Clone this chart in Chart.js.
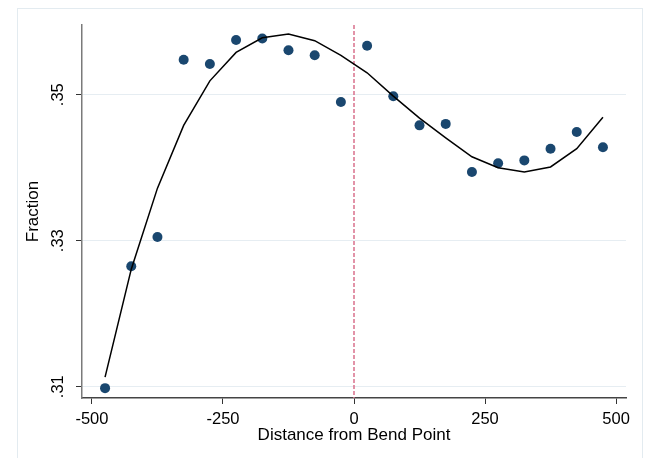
<!DOCTYPE html>
<html>
<head>
<meta charset="utf-8">
<script src="https://cdn.jsdelivr.net/npm/chart.js@4/dist/chart.umd.min.js"></script>
<style>
  html, body { margin: 0; padding: 0; background: #fff; }
  #wrap { position: relative; width: 646px; height: 458px; overflow: hidden; }
  #frame { position: absolute; left: 17px; top: 8px; width: 624px; height: 480px; border: 1px solid #e3ebf0; }
  #chart { position: absolute; left: 0; top: 0; }
</style>
</head>
<body>
<div id="wrap">
  <div id="frame"></div>
  <canvas id="chart" width="646" height="458"></canvas>
</div>
<script>
// bins of 50 around the bend point
const binCenters = [-475, -425, -375, -325, -275, -225, -175, -125, -75, -25,
                    25, 75, 125, 175, 225, 275, 325, 375, 425, 475];
const binFraction = [0.3098, 0.3265, 0.3305, 0.3548, 0.3542, 0.3575, 0.3577, 0.3561, 0.3554, 0.3490,
                     0.3567, 0.3498, 0.3458, 0.3460, 0.3394, 0.3406, 0.3410, 0.3426, 0.3449, 0.3428];
const fittedFraction = [0.3113, 0.3261, 0.3372, 0.3458, 0.3519, 0.3558, 0.3578, 0.3583, 0.3574, 0.3554,
                        0.3530, 0.3498, 0.3468, 0.3441, 0.3415, 0.3400, 0.3394, 0.3401, 0.3426, 0.3469];
const bendPoint = 0;

const xTickValues = [-500, -250, 0, 250, 500];
const yTickValues = [0.31, 0.33, 0.35];
const yTickLabels = ['.31', '.33', '.35'];

const FONT = "'Liberation Sans', Arial, sans-serif";

const toPoints = (ys) => binCenters.map((x, i) => ({ x: x, y: ys[i] }));

// dashed vertical marker at the bend point
const bendLine = {
  id: 'bendLine',
  beforeDatasetsDraw(chart) {
    const { ctx, chartArea, scales } = chart;
    const x = scales.x.getPixelForValue(bendPoint);
    ctx.save();
    ctx.strokeStyle = '#d9708c';
    ctx.lineWidth = 1.5;
    ctx.setLineDash([4, 2]);
    ctx.beginPath();
    ctx.moveTo(x, chartArea.top);
    ctx.lineTo(x, chartArea.bottom);
    ctx.stroke();
    ctx.restore();
  }
};

new Chart(document.getElementById('chart'), {
  type: 'scatter',
  data: {
    datasets: [
      {
        data: toPoints(fittedFraction),
        showLine: true,
        borderColor: '#000',
        borderWidth: 1.5,
        pointRadius: 0,
        tension: 0,
        order: 0
      },
      {
        data: toPoints(binFraction),
        backgroundColor: '#1a476f',
        borderColor: '#1a476f',
        borderWidth: 0,
        pointRadius: 5,
        order: 1
      }
    ]
  },
  plugins: [bendLine],
  options: {
    responsive: false,
    animation: false,
    layout: { padding: { left: 0, top: 25, right: 20, bottom: 0 } },
    plugins: {
      legend: { display: false },
      tooltip: { enabled: false }
    },
    scales: {
      x: {
        type: 'linear',
        min: -519,
        max: 519,
        afterBuildTicks: (scale) => { scale.ticks = xTickValues.map(v => ({ value: v })); },
        afterFit: (scale) => { scale.height = 60; },
        ticks: {
          color: '#000',
          padding: 6,
          maxRotation: 0,
          font: { family: FONT, size: 16.5 }
        },
        grid: {
          drawOnChartArea: false,
          tickLength: 6,
          tickColor: '#333',
          tickWidth: 1
        },
        border: { color: '#444', width: 1.5 },
        title: {
          display: true,
          text: 'Distance from Bend Point',
          color: '#000',
          padding: { top: 0, bottom: 12.5 },
          font: { family: FONT, size: 17 }
        }
      },
      y: {
        min: 0.30845,
        max: 0.35955,
        afterBuildTicks: (scale) => { scale.ticks = yTickValues.map(v => ({ value: v })); },
        afterFit: (scale) => { scale.width = 82; },
        ticks: {
          color: '#000',
          padding: 6.5,
          minRotation: 90,
          maxRotation: 90,
          crossAlign: 'center',
          font: { family: FONT, size: 16.5 },
          callback: (value) => yTickLabels[yTickValues.indexOf(value)]
        },
        grid: {
          color: '#e6edf2',
          lineWidth: 1,
          tickLength: 6,
          tickColor: '#333',
          tickWidth: 1
        },
        border: { color: '#7a7a7a', width: 1.5 },
        title: {
          display: true,
          text: 'Fraction',
          color: '#000',
          padding: { top: 23, bottom: 0 },
          font: { family: FONT, size: 17 }
        }
      }
    }
  }
});
</script>
</body>
</html>
